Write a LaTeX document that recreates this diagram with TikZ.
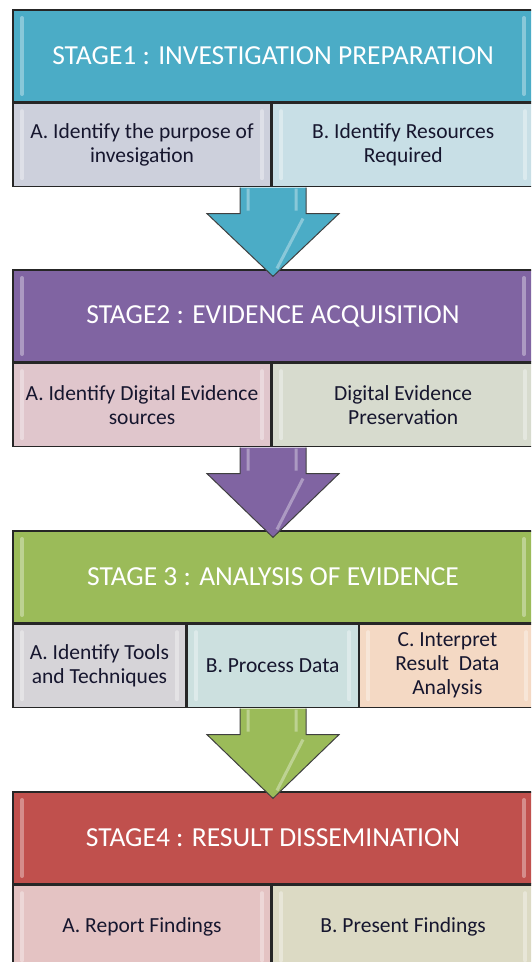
\documentclass[tikz,border=0pt]{standalone}
\usepackage{fontspec}
\setmainfont{Carlito}
\usetikzlibrary{positioning,calc}

\definecolor{stageblue}{HTML}{4BACC6}
\definecolor{stagepurple}{HTML}{8064A2}
\definecolor{stagegreen}{HTML}{9BBB59}
\definecolor{stagered}{HTML}{C0504D}
\definecolor{itemtext}{HTML}{16162E}
\definecolor{oneA}{HTML}{CDD0DC}
\definecolor{oneB}{HTML}{C8DFE6}
\definecolor{twoA}{HTML}{E0C6CC}
\definecolor{twoB}{HTML}{D7DBCE}
\definecolor{threeA}{HTML}{D6D4D8}
\definecolor{threeB}{HTML}{CCE0DF}
\definecolor{threeC}{HTML}{F4D9C4}
\definecolor{fourA}{HTML}{E4C3C3}
\definecolor{fourB}{HTML}{DCDAC4}

\tikzset{
    bevel/.style={path picture={
        \draw[white, opacity=0.35, line width=4pt, line cap=round]
        ([xshift=9pt,yshift=-8pt]path picture bounding box.north west) -- ([xshift=9pt,yshift=8pt]path picture bounding box.south west)
        ([xshift=-9pt,yshift=-8pt]path picture bounding box.north east) -- ([xshift=-9pt,yshift=8pt]path picture bounding box.south east);}},
    header/.style={draw=black!85, line width=1.2pt, bevel, minimum width=520pt, minimum height=92pt,
        inner sep=0pt, text=white, font=\fontsize{27.5}{31}\selectfont},
    item/.style={draw=black!85, line width=1.2pt, bevel, minimum height=83pt, inner sep=0pt,
        align=center, text=itemtext, font=\fontsize{21.5}{24}\selectfont, anchor=north west},
    blockarrow/.style={draw=black!75, line width=1pt, line join=miter}
}

\begin{document}
\begin{tikzpicture}[x=1pt,y=-1pt]
    \useasboundingbox (0,0) rectangle (531,962);
    \clip (0,0) rectangle (531,962);

    % Stage 1
    \node[header, fill=stageblue] (StageOne) at (273,56) {STAGE1 : INVESTIGATION PREPARATION};
    \node[item, fill=oneA, minimum width=258pt] (OnePurpose) at (StageOne.south west) {A. Identify the purpose of\\invesigation};
    \node[item, fill=oneB, minimum width=262pt] (OneResources) at (OnePurpose.north east) {B. Identify Resources\\Required};

    % Stage 2
    \node[header, fill=stagepurple] (StageTwo) at (273,316) {STAGE2 : EVIDENCE ACQUISITION};
    \node[item, fill=twoA, minimum width=258pt] (TwoSources) at (StageTwo.south west) {A. Identify Digital Evidence\\sources};
    \node[item, fill=twoB, minimum width=262pt] (TwoPreserve) at (TwoSources.north east) {Digital Evidence\\Preservation};

    % Stage 3
    \node[header, fill=stagegreen] (StageThree) at (273,577) {STAGE 3 : ANALYSIS OF EVIDENCE};
    \node[item, fill=threeA, minimum width=173pt] (ThreeTools) at (StageThree.south west) {A. Identify Tools\\and Techniques};
    \node[item, fill=threeB, minimum width=171pt] (ThreeProcess) at (ThreeTools.north east) {B. Process Data};
    \node[item, fill=threeC, minimum width=176pt] (ThreeInterpret) at (ThreeProcess.north east) {C. Interpret\\Result~ Data\\Analysis};

    % Stage 4
    \node[header, fill=stagered] (StageFour) at (273,838) {STAGE4 : RESULT DISSEMINATION};
    \node[item, fill=fourA, minimum width=258pt] (FourReport) at (StageFour.south west) {A. Report Findings};
    \node[item, fill=fourB, minimum width=262pt] (FourPresent) at (FourReport.north east) {B. Present Findings};

    % Arrows between stages
    \foreach \from/\to/\col in {OnePurpose/StageTwo/stageblue,TwoSources/StageThree/stagepurple,ThreeTools/StageFour/stagegreen}
    {
        \coordinate (top) at ([yshift=-0.8pt]\to.north |- \from.south);
        \coordinate (tip) at ([yshift=-7pt]\to.north);
        \draw[blockarrow, fill=\col] ($(top)+(-33,0)$) -- ++(0,26) -- ++(-33,0) -- (tip)
            -- ($(top)+(66,26)$) -- ++(-33,0) -- ($(top)+(33,0)$);
        \draw[white, opacity=0.35, line width=3pt] ($(top)+(-25,1)$) -- ++(0,22) ($(top)+(23,1)$) -- ++(0,22)
            ($(top)+(30,31)$) -- ($(tip)+(4,-8)$);
    }
\end{tikzpicture}
\end{document}
